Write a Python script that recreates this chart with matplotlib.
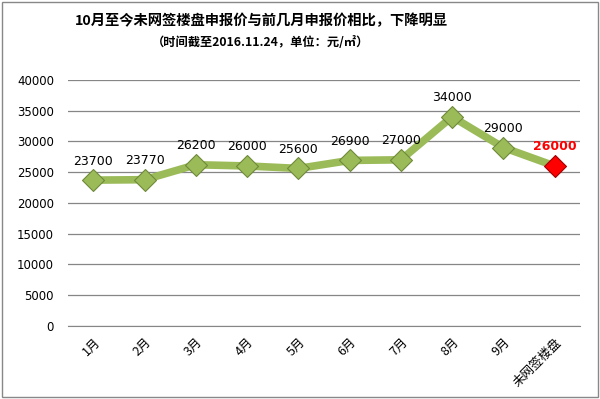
import matplotlib.pyplot as plt
from matplotlib.patches import Rectangle

plt.rcParams['font.family'] = ['Noto Sans CJK SC', 'DejaVu Sans']

months = ['1月', '2月', '3月', '4月', '5月', '6月', '7月', '8月', '9月', '未网签楼盘']
prices = [23700, 23770, 26200, 26000, 25600, 26900, 27000, 34000, 29000, 26000]
yticks = [0, 5000, 10000, 15000, 20000, 25000, 30000, 35000, 40000]

fig = plt.figure(figsize=(6, 3.99), dpi=100)
ax = fig.add_axes([0.113, 0.183, 0.854, 0.617])

x = list(range(len(months)))
ax.plot(x, prices, color='#9BBB59', lw=5.5, zorder=2, solid_joinstyle='round')
ax.scatter(x[:-1], prices[:-1], marker='D', s=125, color='#9BBB59',
           edgecolor='#6F8A3A', lw=0.8, zorder=3)
ax.scatter(x[-1:], prices[-1:], marker='D', s=125, color='#FF0000',
           edgecolor='#A00000', lw=0.8, zorder=3)

for i, v in enumerate(prices):
    last = i == len(prices) - 1
    ax.annotate(str(v), (i, v), xytext=(0, 9), textcoords='offset points',
                ha='center', va='bottom', fontsize=9,
                color='red' if last else 'black',
                fontweight='bold' if last else 'normal', family='DejaVu Sans')

ax.set_xlim(-0.5, len(months) - 0.5)
ax.set_ylim(0, 40000)
ax.set_yticks(yticks)
ax.set_yticklabels([str(t) for t in yticks], fontsize=8.5, family='DejaVu Sans')
ax.set_xticks(x)
ax.set_xticklabels(months, rotation=45, ha='right', rotation_mode='anchor', fontsize=9)
ax.tick_params(length=0, pad=10)
ax.tick_params(axis='x', pad=7)
ax.grid(axis='y', color='#868686', lw=0.9)
ax.set_axisbelow(True)
for s in ['top', 'right', 'left']:
    ax.spines[s].set_visible(False)
ax.spines['bottom'].set_color('#868686')

fig.text(0.435, 0.948, '10月至今未网签楼盘申报价与前几月申报价相比，下降明显',
         ha='center', va='center', fontsize=10.3, fontweight='bold')
fig.text(0.435, 0.893, '（时间截至2016.11.24，单位：元/㎡）',
         ha='center', va='center', fontsize=8.8, fontweight='bold')

fig.patches.append(Rectangle((0.003, 0.005), 0.993, 0.99, transform=fig.transFigure,
                             fill=False, edgecolor='#888888', lw=1))

fig.savefig('out.png', dpi=100)
